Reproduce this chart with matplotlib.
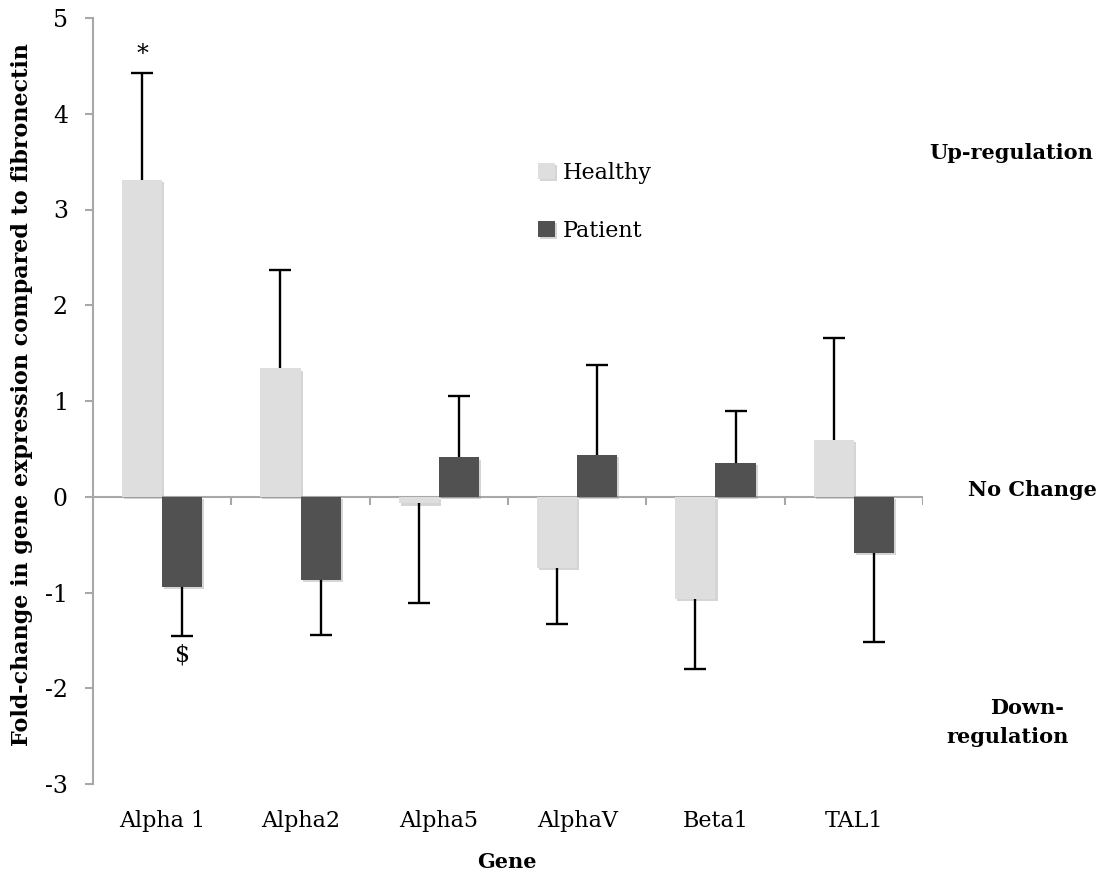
import matplotlib.pyplot as plt
import matplotlib.patheffects as pe
import numpy as np

genes = ['Alpha 1', 'Alpha2', 'Alpha5', 'AlphaV', 'Beta1', 'TAL1']
healthy = [3.31, 1.34, -0.07, -0.74, -1.07, 0.59]
healthy_err = [1.12, 1.03, 1.04, 0.59, 0.73, 1.07]
patient = [-0.94, -0.87, 0.41, 0.44, 0.35, -0.59]
patient_err = [0.51, 0.57, 0.64, 0.94, 0.55, 0.93]

plt.rcParams['font.family'] = 'DejaVu Serif'
plt.rcParams['axes.unicode_minus'] = False

W, H = 1102, 873
fig = plt.figure(figsize=(W / 100, H / 100), dpi=100)
ax = fig.add_axes([93 / W, 1 - 784 / H, 830 / W, 766 / H])

x = np.arange(len(genes))
bw = 0.29
axis_grey = '#a8a8a8'
shadow = [pe.SimplePatchShadow(offset=(1.5, -1.5), shadow_rgbFace='#888888', alpha=0.35), pe.Normal()]

b1 = ax.bar(x - bw / 2, healthy, bw, color='#dedede', label='Healthy', zorder=2)
b2 = ax.bar(x + bw / 2, patient, bw, color='#515151', label='Patient', zorder=2)
for b in list(b1) + list(b2):
    b.set_path_effects(shadow)


def error_tips(xs, vals, errs):
    # one-sided error bar pointing away from zero, cap only at the tip
    tips = [v + e if v >= 0 else v - e for v, e in zip(vals, errs)]
    ax.vlines(xs, vals, tips, color='black', lw=1.7, zorder=3)
    ax.plot(xs, tips, ls='none', marker='_', ms=16, mew=1.7, color='black', zorder=3)
    return tips


tips_h = error_tips(x - bw / 2, healthy, healthy_err)
tips_p = error_tips(x + bw / 2, patient, patient_err)

# zero line with category separators
ax.axhline(0, color=axis_grey, lw=1.5, zorder=1)
ax.vlines(np.arange(len(genes) + 1) - 0.5, -0.085, 0, color=axis_grey, lw=1.5, zorder=1)

# significance marks
ax.annotate('*', (x[0] - bw / 2, tips_h[0]), xytext=(0, 5),
            textcoords='offset points', ha='center', va='bottom', fontsize=17)
ax.annotate('$', (x[0] + bw / 2, tips_p[0]), xytext=(0, -6),
            textcoords='offset points', ha='center', va='top', fontsize=17)

ax.set_xlim(-0.5, len(genes) - 0.5)
ax.set_ylim(-3, 5)
ax.set_yticks(range(-3, 6))
ax.set_xticks(x)
ax.set_xticklabels(genes)
ax.tick_params(axis='x', length=0, pad=19, labelsize=16)
ax.tick_params(axis='y', length=6, width=1.5, color=axis_grey, pad=12, labelsize=17)

for s in ['top', 'right', 'bottom']:
    ax.spines[s].set_visible(False)
ax.spines['left'].set_color(axis_grey)
ax.spines['left'].set_linewidth(1.5)

ax.legend(loc='upper left', bbox_to_anchor=(538 / W, 1 - 162 / H), bbox_transform=fig.transFigure,
          frameon=False, fontsize=16, handlelength=0.75, handleheight=0.75,
          handletextpad=0.35, labelspacing=1.6, borderpad=0, borderaxespad=0)

fig.text(22 / W, 1 - 395 / H, 'Fold-change in gene expression compared to fibronectin',
         rotation=90, ha='center', va='center', fontsize=16, fontweight='bold')
fig.text(507 / W, 1 - 862 / H, 'Gene', ha='center', va='center', fontsize=15, fontweight='bold')

fig.text(1011 / W, 1 - 153 / H, 'Up-regulation', ha='center', va='center', fontsize=15, fontweight='bold')
fig.text(1032 / W, 1 - 490 / H, 'No Change', ha='center', va='center', fontsize=15, fontweight='bold')
fig.text(1027 / W, 1 - 708 / H, 'Down-', ha='center', va='center', fontsize=15, fontweight='bold')
fig.text(1008 / W, 1 - 737 / H, 'regulation', ha='center', va='center', fontsize=15, fontweight='bold')

fig.savefig('out.png', dpi=100)
